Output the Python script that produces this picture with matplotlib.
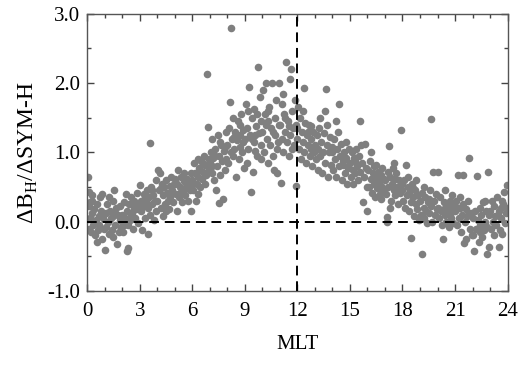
import matplotlib
matplotlib.use('Agg')
import matplotlib.pyplot as plt
from matplotlib.ticker import MultipleLocator, FormatStrFormatter

plt.rcParams['font.family'] = 'Liberation Serif'
plt.rcParams['mathtext.fontset'] = 'custom'
plt.rcParams['mathtext.rm'] = 'Liberation Serif'

# (MLT, dB_H/dSYM-H), grouped by 3-hour blocks
pts_00_03 = [(0.05, 0.65), (0.08, 0.43), (0.1, 0.22), (0.15, 0.05), (0.12, -0.1), (0.2, -0.15), (0.25, 0.3),
             (0.3, 0.12), (0.35, -0.05), (0.4, 0.18), (0.45, -0.2), (0.5, 0.02), (0.55, 0.25), (0.6, -0.12),
             (0.65, 0.08), (0.7, -0.05), (0.75, 0.35), (0.8, 0.15), (0.85, -0.25), (0.9, 0.05), (0.95, -0.1),
             (0.55, -0.3), (0.3, 0.38), (0.18, 0.28), (0.87, 0.4),
             (1.0, -0.41), (1.05, 0.12), (1.1, -0.08), (1.15, 0.25), (1.2, 0.0), (1.25, -0.18), (1.3, 0.15),
             (1.35, 0.05), (1.4, -0.12), (1.45, 0.3), (1.5, 0.08), (1.55, 0.45), (1.6, -0.05), (1.65, 0.2),
             (1.7, -0.32), (1.75, 0.1), (1.8, -0.15), (1.85, 0.02), (1.9, 0.22), (1.95, -0.08), (1.25, 0.35),
             (1.6, 0.12), (1.45, -0.22),
             (2.0, 0.1), (2.05, -0.15), (2.1, 0.28), (2.15, 0.05), (2.2, 0.4), (2.27, -0.43), (2.32, -0.38),
             (2.3, 0.15), (2.35, -0.05), (2.4, 0.25), (2.45, 0.02), (2.5, 0.35), (2.55, 0.12), (2.6, -0.1),
             (2.65, 0.2), (2.7, 0.3), (2.75, 0.05), (2.8, 0.18), (2.85, 0.42), (2.9, -0.02), (2.95, 0.25),
             (2.5, 0.08), (2.1, -0.05)]

pts_03_06 = [(3.0, 0.53), (3.05, 0.15), (3.1, 0.3), (3.15, -0.12), (3.2, 0.22), (3.25, 0.4), (3.3, 0.05),
             (3.35, 0.28), (3.4, 0.45), (3.45, -0.18), (3.5, 0.2), (3.56, 1.14), (3.55, 0.35), (3.6, 0.1),
             (3.65, 0.5), (3.7, 0.25), (3.75, 0.38), (3.8, 0.02), (3.85, 0.3), (3.9, 0.6), (3.95, 0.15),
             (3.3, 0.35), (3.7, 0.45),
             (4.0, 0.3), (4.05, 0.75), (4.1, 0.45), (4.15, 0.7), (4.2, 0.2), (4.25, 0.55), (4.3, 0.08),
             (4.35, 0.38), (4.4, 0.5), (4.45, 0.25), (4.5, 0.6), (4.55, 0.42), (4.6, 0.3), (4.65, 0.18),
             (4.7, 0.52), (4.75, 0.35), (4.8, 0.65), (4.85, 0.45), (4.9, 0.28), (4.95, 0.55), (4.5, 0.15),
             (4.8, 0.4), (4.2, 0.48),
             (5.0, 0.62), (5.05, 0.4), (5.1, 0.15), (5.15, 0.55), (5.2, 0.75), (5.25, 0.35), (5.3, 0.5),
             (5.35, 0.65), (5.4, 0.28), (5.45, 0.45), (5.5, 0.58), (5.55, 0.7), (5.6, 0.38), (5.65, 0.5),
             (5.7, 0.62), (5.75, 0.3), (5.8, 0.55), (5.85, 0.45), (5.9, 0.7), (5.95, 0.15), (5.3, 0.42),
             (5.6, 0.6), (5.9, 0.52)]

pts_06_09 = [(6.0, 0.6), (6.05, 0.45), (6.1, 0.85), (6.15, 0.7), (6.2, 0.3), (6.25, 0.55), (6.3, 0.9),
             (6.35, 0.65), (6.4, 0.78), (6.45, 0.5), (6.5, 0.88), (6.55, 0.62), (6.6, 0.72), (6.65, 0.95),
             (6.7, 0.55), (6.75, 0.82), (6.8, 0.68), (6.85, 2.13), (6.9, 1.37), (6.93, 0.75), (6.95, 0.9),
             (6.3, 0.4), (6.6, 0.85), (6.45, 0.75),
             (7.0, 0.85), (7.05, 1.0), (7.1, 0.7), (7.15, 1.2), (7.2, 0.92), (7.25, 0.6), (7.3, 1.05),
             (7.35, 0.45), (7.4, 0.8), (7.45, 1.25), (7.5, 0.27), (7.55, 0.95), (7.6, 0.68), (7.65, 1.1),
             (7.7, 0.88), (7.75, 0.33), (7.8, 1.02), (7.85, 0.75), (7.9, 1.3), (7.95, 0.9), (7.3, 0.95),
             (7.6, 1.15), (7.85, 1.08), (7.15, 0.8),
             (8.0, 1.1), (8.05, 0.85), (8.1, 1.35), (8.16, 1.73), (8.22, 2.8), (8.25, 1.2), (8.3, 0.95),
             (8.35, 1.5), (8.4, 1.05), (8.45, 1.3), (8.5, 0.65), (8.55, 1.18), (8.6, 1.45), (8.65, 0.9),
             (8.7, 1.25), (8.75, 1.08), (8.8, 1.55), (8.85, 1.0), (8.9, 1.32), (8.95, 0.78), (8.4, 1.22),
             (8.7, 1.4), (8.2, 1.0), (8.9, 1.15)]

pts_09_12 = [(9.0, 1.2), (9.05, 1.7), (9.1, 0.85), (9.15, 1.35), (9.2, 1.05), (9.26, 1.94), (9.3, 1.25),
             (9.34, 0.43), (9.4, 1.5), (9.45, 0.72), (9.5, 1.15), (9.55, 1.62), (9.6, 1.02), (9.65, 1.38),
             (9.7, 0.95), (9.74, 2.24), (9.8, 1.28), (9.85, 1.8), (9.9, 1.1), (9.95, 1.45), (9.4, 1.2),
             (9.7, 1.55), (9.2, 1.6), (9.6, 1.25), (9.95, 0.9),
             (10.0, 1.3), (10.05, 1.9), (10.1, 1.0), (10.15, 1.55), (10.2, 2.0), (10.25, 1.2), (10.3, 0.85),
             (10.35, 1.45), (10.4, 1.65), (10.45, 1.1), (10.5, 1.35), (10.55, 2.0), (10.6, 0.95), (10.64, 0.75),
             (10.7, 1.5), (10.75, 1.25), (10.8, 1.75), (10.83, 0.7), (10.9, 1.15), (10.97, 2.0), (10.95, 1.4),
             (10.3, 1.6), (10.6, 1.3), (10.2, 1.4), (10.85, 1.05),
             (11.0, 1.4), (11.05, 0.56), (11.1, 1.2), (11.15, 1.7), (11.2, 1.0), (11.25, 1.55), (11.3, 1.3),
             (11.36, 2.3), (11.4, 1.15), (11.45, 1.45), (11.5, 0.95), (11.55, 2.06), (11.6, 1.25), (11.64, 2.2),
             (11.7, 1.6), (11.75, 1.35), (11.8, 1.1), (11.85, 1.75), (11.9, 1.4), (11.93, 0.52), (11.95, 1.2),
             (11.3, 1.5), (11.5, 1.38), (11.7, 1.05), (11.2, 1.85)]

pts_12_15 = [(12.0, 1.35), (12.05, 1.65), (12.1, 1.05), (12.15, 1.5), (12.2, 0.9), (12.25, 1.3), (12.3, 1.15),
             (12.39, 1.93), (12.4, 1.0), (12.45, 1.42), (12.5, 0.85), (12.55, 1.25), (12.6, 1.1), (12.65, 1.4),
             (12.7, 0.95), (12.75, 1.2), (12.8, 1.05), (12.85, 0.8), (12.9, 1.3), (12.95, 1.0), (12.3, 1.6),
             (12.6, 1.3), (12.8, 1.38),
             (13.0, 1.1), (13.05, 0.9), (13.1, 1.25), (13.15, 0.75), (13.2, 1.05), (13.25, 1.35), (13.3, 0.95),
             (13.35, 1.15), (13.4, 0.7), (13.45, 1.0), (13.5, 1.28), (13.55, 0.85), (13.6, 1.6), (13.64, 1.91),
             (13.7, 1.1), (13.75, 0.65), (13.8, 1.0), (13.85, 1.22), (13.9, 0.82), (13.95, 1.08), (13.3, 1.5),
             (13.7, 1.4),
             (14.0, 1.0), (14.05, 0.75), (14.1, 1.2), (14.15, 0.9), (14.2, 0.65), (14.25, 1.05), (14.3, 1.3),
             (14.4, 1.7), (14.35, 0.8), (14.45, 0.95), (14.5, 1.12), (14.55, 0.6), (14.6, 0.88), (14.65, 1.0),
             (14.7, 0.7), (14.75, 1.15), (14.8, 0.92), (14.85, 0.55), (14.9, 0.78), (14.95, 1.05), (14.2, 1.45),
             (14.6, 0.82)]

pts_15_18 = [(15.0, 0.85), (15.05, 0.65), (15.1, 1.0), (15.15, 0.75), (15.2, 0.55), (15.25, 0.92), (15.3, 0.7),
             (15.35, 1.05), (15.4, 0.8), (15.45, 0.6), (15.5, 0.95), (15.58, 1.45), (15.6, 0.72), (15.65, 1.1),
             (15.7, 0.85), (15.77, 0.28), (15.8, 0.65), (15.85, 1.12), (15.9, 0.78), (15.95, 0.5), (16.0, 0.16),
             (15.3, 0.88),
             (16.05, 0.75), (16.1, 0.5), (16.15, 0.88), (16.2, 0.62), (16.25, 0.42), (16.3, 0.7), (16.35, 0.55),
             (16.4, 0.8), (16.45, 0.35), (16.5, 0.65), (16.55, 0.48), (16.6, 0.72), (16.65, 0.58), (16.7, 0.4),
             (16.75, 0.68), (16.8, 0.52), (16.85, 0.78), (16.9, 0.45), (16.95, 0.62), (16.5, 0.82), (16.2, 1.0),
             (16.8, 0.32),
             (17.0, 0.6), (17.05, 0.4), (17.1, 0.0), (17.12, 0.07), (17.15, 0.72), (17.2, 0.5), (17.24, 1.09),
             (17.3, 0.65), (17.35, 0.3), (17.4, 0.55), (17.45, 0.78), (17.5, 0.45), (17.55, 0.62), (17.6, 0.38),
             (17.65, 0.7), (17.7, 0.5), (17.75, 0.25), (17.8, 0.6), (17.85, 0.42), (17.92, 1.33), (17.95, 0.55),
             (17.5, 0.85), (17.3, 0.2)]

pts_18_21 = [(18.0, 0.45), (18.05, 0.3), (18.1, 0.6), (18.15, 0.2), (18.2, 0.82), (18.25, 0.38), (18.3, 0.5),
             (18.35, 0.15), (18.4, 0.42), (18.47, -0.24), (18.5, 0.28), (18.55, 0.55), (18.6, 0.35), (18.65, 0.08),
             (18.7, 0.45), (18.75, 0.25), (18.8, 0.6), (18.85, 0.18), (18.9, 0.38), (18.95, 0.02), (18.3, 0.65),
             (18.6, 0.48),
             (19.0, 0.3), (19.05, 0.1), (19.1, 0.42), (19.14, -0.47), (19.2, 0.2), (19.25, 0.05), (19.3, 0.35),
             (19.35, 0.15), (19.4, -0.02), (19.45, 0.28), (19.5, 0.12), (19.55, 0.45), (19.62, 1.48), (19.65, 0.22),
             (19.7, 0.0), (19.77, 0.72), (19.8, 0.3), (19.85, 0.1), (19.9, 0.4), (19.95, 0.18), (19.5, 0.32),
             (19.2, 0.5),
             (20.0, 0.2), (20.05, 0.72), (20.1, 0.05), (20.15, 0.35), (20.2, 0.15), (20.25, -0.05), (20.3, -0.25),
             (20.35, 0.28), (20.4, 0.1), (20.45, 0.45), (20.5, 0.0), (20.55, 0.22), (20.6, 0.12), (20.65, -0.08),
             (20.7, 0.3), (20.75, 0.05), (20.8, 0.18), (20.85, 0.38), (20.9, -0.02), (20.95, 0.25), (20.4, 0.2),
             (20.7, 0.1)]

pts_21_24 = [(21.0, 0.15), (21.05, 0.3), (21.1, -0.05), (21.15, 0.67), (21.2, 0.2), (21.25, 0.05), (21.3, 0.35),
             (21.35, -0.15), (21.4, 0.1), (21.48, 0.67), (21.45, 0.25), (21.5, -0.31), (21.55, 0.0), (21.6, 0.18),
             (21.65, -0.25), (21.7, 0.08), (21.75, 0.3), (21.82, 0.92), (21.85, -0.1), (21.9, 0.12), (21.95, -0.2),
             (21.3, 0.2),
             (22.0, 0.05), (22.05, -0.2), (22.1, -0.42), (22.15, 0.15), (22.2, -0.1), (22.28, 0.66), (22.3, 0.02),
             (22.35, -0.3), (22.4, 0.2), (22.45, -0.05), (22.5, 0.1), (22.55, -0.22), (22.6, 0.28), (22.65, -0.12),
             (22.7, 0.0), (22.75, 0.15), (22.8, -0.47), (22.85, -0.08), (22.9, 0.71), (22.92, -0.36), (22.95, 0.1),
             (22.4, -0.15), (22.7, 0.3),
             (23.0, 0.15), (23.05, -0.1), (23.1, 0.3), (23.15, 0.0), (23.2, -0.2), (23.25, 0.22), (23.3, 0.08),
             (23.35, -0.05), (23.4, 0.35), (23.45, 0.1), (23.5, -0.36), (23.55, -0.12), (23.6, 0.2), (23.65, 0.05),
             (23.7, -0.18), (23.75, 0.25), (23.8, 0.43), (23.85, -0.02), (23.9, 0.12), (23.95, 0.53), (23.97, 0.2),
             (23.5, 0.15), (23.7, 0.3)]

allpts = pts_00_03 + pts_03_06 + pts_06_09 + pts_09_12 + pts_12_15 + pts_15_18 + pts_18_21 + pts_21_24
mlt = [p[0] for p in allpts]
ratio = [p[1] for p in allpts]

fig = plt.figure(figsize=(5.19, 3.65), dpi=100)
ax = fig.add_axes([0.168, 0.203, 0.81, 0.759])

ax.scatter(mlt, ratio, s=30, color='#7f7f7f', linewidths=0, zorder=2)
ax.axhline(0, color='black', lw=1.4, ls=(0, (5, 3)), zorder=3)
ax.axvline(12, color='black', lw=1.4, ls=(0, (5, 3)), zorder=3)

ax.set_xlim(0, 24)
ax.set_ylim(-1, 3)
ax.xaxis.set_major_locator(MultipleLocator(3))
ax.xaxis.set_minor_locator(MultipleLocator(1))
ax.yaxis.set_major_locator(MultipleLocator(1))
ax.yaxis.set_minor_locator(MultipleLocator(0.5))
ax.yaxis.set_major_formatter(FormatStrFormatter('%.1f'))
ax.tick_params(which='both', direction='in', top=True, right=True, color='#444444', labelsize=15)
ax.tick_params(axis='x', which='major', pad=8)
ax.tick_params(axis='y', which='major', pad=5)
ax.tick_params(which='major', length=5, width=1)
ax.tick_params(which='minor', length=3, width=1)
for s in ax.spines.values():
    s.set_color('#555555')
    s.set_linewidth(1)

ax.set_xlabel('MLT', fontsize=15, labelpad=10)
ax.set_ylabel(r'$\Delta$B$_\mathrm{H}$/$\Delta$SYM-H', fontsize=17, labelpad=5)

fig.savefig('out.png', dpi=100)
